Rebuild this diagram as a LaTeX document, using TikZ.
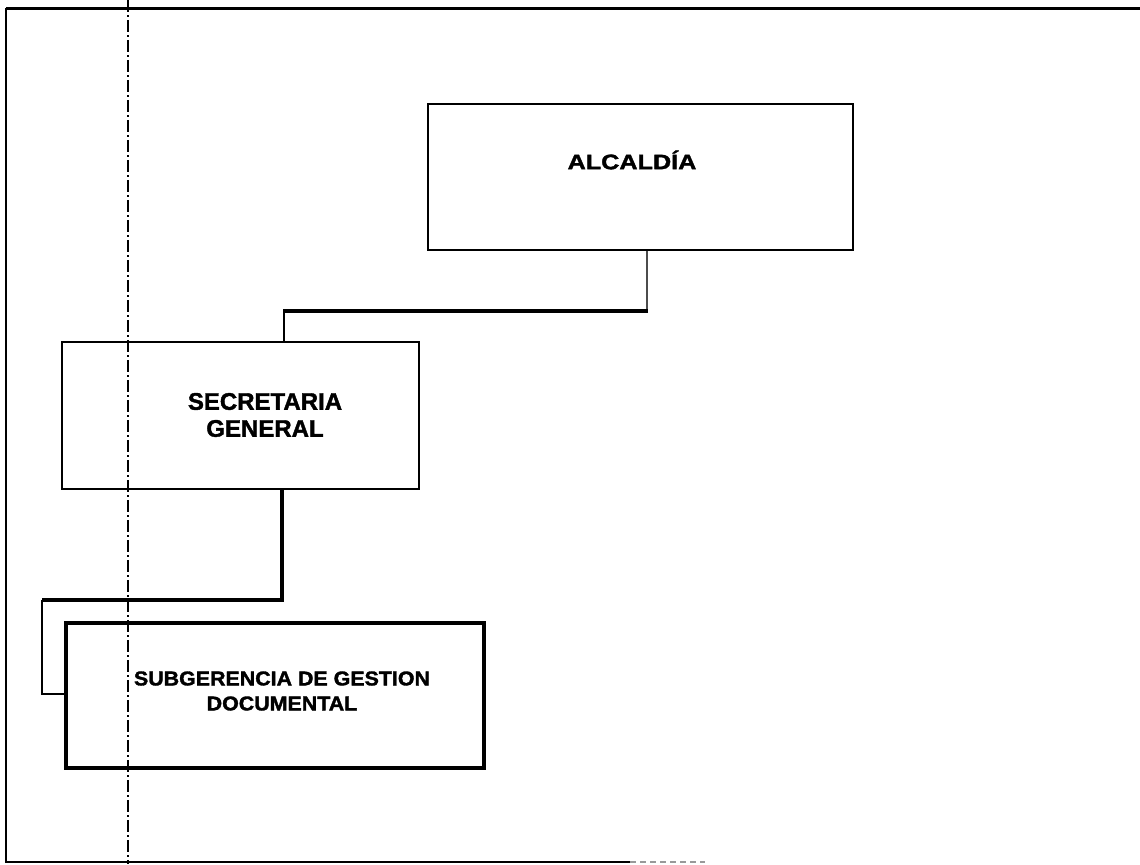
\documentclass[tikz,border=0pt]{standalone}
\usepackage{fontspec}
\setmainfont{Liberation Sans}[BoldFeatures={FakeBold=1.6}]
\begin{document}
\begin{tikzpicture}[x=0.5pt,y=-0.5pt,
  box/.style={draw=black,line width=1pt,inner sep=0pt},
  boxthick/.style={draw=black,line width=2pt,inner sep=0pt},
  lbl/.style={inner sep=0pt,align=center,font=\bfseries},
  conthin/.style={draw=black!70,line width=0.6pt},
  conmid/.style={draw=black,line width=1.2pt},
  conthick/.style={draw=black,line width=2pt},
  frame/.style={draw=black,line width=1pt},
  axisline/.style={draw=black,line width=0.6pt,dash pattern=on 6pt off 1.5pt on 1pt off 1.5pt}
]
\useasboundingbox (0,0) rectangle (1140,864);
% page frame
\coordinate (ftl) at (6,8);
\coordinate (ftr) at (1140,8);
\coordinate (fbl) at (6,862);
\coordinate (fbr) at (630,862);
\coordinate (fbe) at (705,862);
\draw[frame,line width=1.5pt] (ftl) -- (ftr);
\draw[frame] (ftl) -- (fbl) -- (fbr);
\draw[draw=black!40,line width=0.6pt,dash pattern=on 3pt off 2pt] (fbr) -- (fbe);
% dash-dot guide line
\coordinate (gt) at (128,0);
\coordinate (gb) at (128,864);
\draw[axisline] (gt) -- (gb);
% boxes
\node[box,minimum width=212.5pt,minimum height=73pt] (alc) at (640.5,177) {};
\node[lbl] (alct) at (632,160) {\fontsize{10.5}{12}\selectfont\scalebox{1.2}[1]{ALCALDÍA}};
\node[box,minimum width=178.5pt,minimum height=73.5pt] (sec) at (240.5,415.5) {};
\node[lbl,font=\bfseries\fontsize{12}{13.5}\selectfont] (sect) at (265,415) {SECRETARIA\\GENERAL};
\node[boxthick,minimum width=209pt,minimum height=72.5pt] (sub) at (275,695.5) {};
\node[lbl,font=\bfseries\fontsize{10}{12.5}\selectfont] (subt) at (282,691) {\scalebox{1.07}[1]{SUBGERENCIA DE GESTION}\\\scalebox{1.07}[1]{DOCUMENTAL}};
% connector ALCALDIA -> SECRETARIA
\coordinate (a1) at (647,311);
\coordinate (a2) at (284,311);
\draw[conthin] (alc.south -| a1) -- (a1);
\draw[conthick] ([xshift=0.5pt]a1) -- ([xshift=-0.5pt]a2);
\draw[conmid] ([yshift=-0.5pt]a2) -- (sec.north -| a2);
% connector SECRETARIA -> SUBGERENCIA
\coordinate (b1) at (282,600);
\coordinate (b2) at (42,600);
\coordinate (b3) at (42,694);
\draw[conthick] (sec.south -| b1) -- (b1) -- (b2);
\draw[conmid] (b2) -- (b3) -- (sub.west |- b3);
\end{tikzpicture}
\end{document}
